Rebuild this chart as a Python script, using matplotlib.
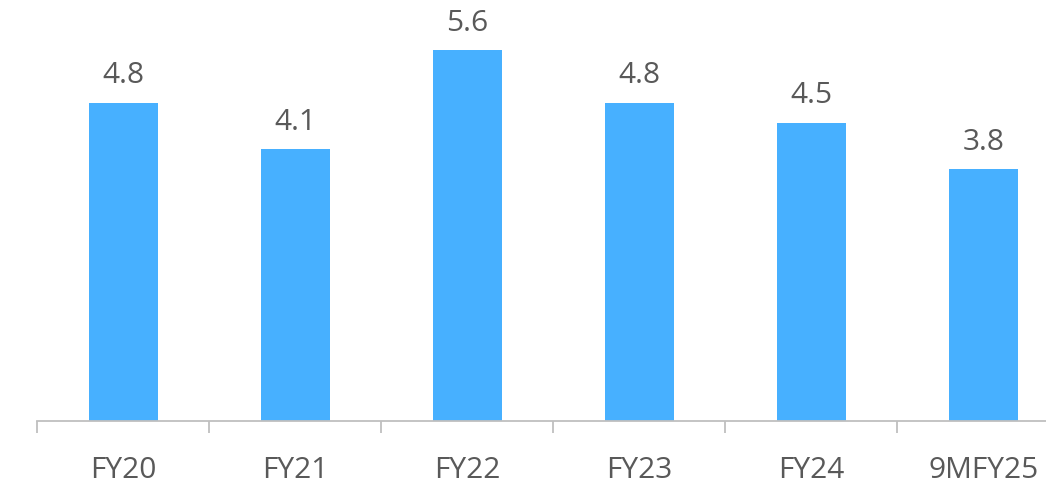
import matplotlib
matplotlib.use("Agg")
import matplotlib.pyplot as plt

categories = ["FY20", "FY21", "FY22", "FY23", "FY24", "9MFY25"]
values = [4.8, 4.1, 5.6, 4.8, 4.5, 3.8]
value_labels = ["4.8", "4.1", "5.6", "4.8", "4.5", "3.8"]

plt.rcParams['font.family'] = ['Open Sans', 'DejaVu Sans']

W, H = 1046, 484
fig = plt.figure(figsize=(W / 100, H / 100), dpi=100)
base = 420.5
left = 37
cat_w = 172.1
ax = fig.add_axes([left / W, 1 - base / H, cat_w * 6 / W, base / H])

bar_color = "#47B0FF"
text_color = "#595959"
fs = 21.5
x = list(range(len(categories)))
ax.bar(x, values, width=69 / cat_w, color=bar_color, zorder=2)
ax.set_xlim(-0.5, 5.5)
ax.set_ylim(0, base / 66.1)

for xi, v, lab in zip(x, values, value_labels):
    ax.annotate(lab, (xi, v), xytext=(0, 14.2), textcoords="offset points",
                ha="center", va="baseline", fontsize=fs, color=text_color)

for xi, cat in zip(x, categories):
    ax.annotate(cat, (xi, 0), xycoords=("data", "axes fraction"),
                xytext=(0, -41.6), textcoords="offset points",
                ha="center", va="baseline", fontsize=fs, color=text_color,
                annotation_clip=False)

for s in ["top", "right", "left"]:
    ax.spines[s].set_visible(False)
ax.spines["bottom"].set_color("#BFBFBF")
ax.spines["bottom"].set_linewidth(1.3)
ax.set_yticks([])

ax.set_xticks([i - 0.5 for i in range(7)])
ax.set_xticklabels([])
ax.tick_params(axis="x", which="major", length=8.5, width=1.3, color="#BFBFBF")

fig.savefig("out.png", dpi=100)
